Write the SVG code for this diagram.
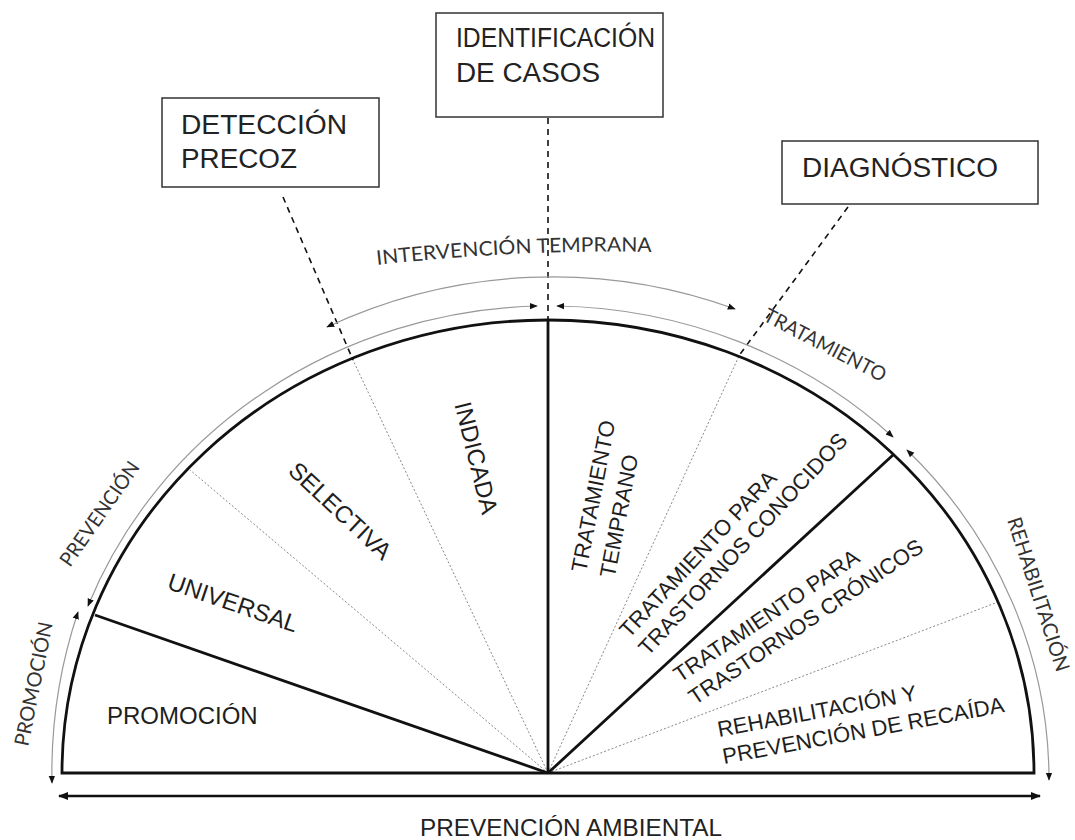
<svg xmlns="http://www.w3.org/2000/svg" width="1075" height="840" viewBox="0 0 1075 840">
<style>
.box{fill:#fff;stroke:#333;stroke-width:1.5}
.boxt{font-family:"Liberation Sans",Arial,sans-serif;font-size:27px;fill:#222}
.in{font-family:"Liberation Sans",Arial,sans-serif;font-size:22px;fill:#1e1e1e}
.inL{font-family:"Liberation Sans",Arial,sans-serif;font-size:24px;fill:#1e1e1e}
.out{font-family:Lato,"Open Sans",sans-serif;font-size:20px;fill:#333}
.thin{fill:none;stroke:#999;stroke-width:1.2;marker-start:url(#ah);marker-end:url(#ah)}
.dash{stroke:#111;stroke-width:1.6;stroke-dasharray:6 5;fill:none}
.dot{stroke:#888;stroke-width:1;stroke-dasharray:2 2;fill:none}
.thick{stroke:#111;stroke-width:2.8;fill:none}
</style>
<defs>
<marker id="ah" viewBox="0 0 10 10" refX="9" refY="5" markerWidth="8" markerHeight="8" markerUnits="userSpaceOnUse" orient="auto-start-reverse"><path d="M0,1 L10,5 L0,9 z" fill="#111"/></marker>
<marker id="ahb" viewBox="0 0 10 10" refX="9" refY="5" markerWidth="11" markerHeight="10" markerUnits="userSpaceOnUse" orient="auto-start-reverse"><path d="M0,1 L10,5 L0,9 z" fill="#111"/></marker>
<path id="itp" d="M 377 265 Q 520 249 655 252"/>
</defs>
<rect width="1075" height="840" fill="#fff"/>

<g id="connectors">
<path class="dot" d="M548 773 L190 470"/>
<path class="dot" d="M548 773 L352 358"/>
<path class="dot" d="M548 773 L739 356"/>
<path class="dot" d="M548 773 L998 602"/>
<path class="thick" d="M62 773 A486 453 0 0 1 1034 773 Z"/>
<path class="thick" d="M548 773 L95 615"/>
<path class="thick" d="M548 773 L548 320"/>
<path class="thick" d="M548 773 L893 455"/>
<path class="dash" d="M283 197 L353 360"/>
<path class="dash" d="M548 118 L548 320"/>
<path class="dash" d="M848 207 L738 357"/>
<path class="thin" d="M78 612 A496 500 0 0 0 52 783"/>
<path class="thin" d="M88 606 A496 468 0 0 1 537 306"/>
<path class="thin" d="M327 327 A515 496 0 0 1 735 309"/>
<path class="thin" d="M557 306 A496 468 0 0 1 893 437"/>
<path class="thin" d="M907 450 A501 473 0 0 1 1049 780"/>
<path d="M59 796 L1040 796" stroke="#111" stroke-width="2.6" marker-start="url(#ahb)" marker-end="url(#ahb)"/>
</g>

<g id="box-deteccion">
<rect class="box" x="162" y="98" width="217" height="89"/>
<text class="boxt" x="181" y="134" textLength="166" lengthAdjust="spacingAndGlyphs">DETECCIÓN</text>
<text class="boxt" x="181" y="168" textLength="116" lengthAdjust="spacingAndGlyphs">PRECOZ</text>
</g>
<g id="box-identificacion">
<rect class="box" x="436" y="13" width="227" height="104"/>
<text class="boxt" x="456" y="47" textLength="199" lengthAdjust="spacingAndGlyphs">IDENTIFICACIÓN</text>
<text class="boxt" x="456" y="82" textLength="144" lengthAdjust="spacingAndGlyphs">DE CASOS</text>
</g>
<g id="box-diagnostico">
<rect class="box" x="782" y="141" width="256" height="63"/>
<text class="boxt" x="802" y="177" textLength="196" lengthAdjust="spacingAndGlyphs">DIAGNÓSTICO</text>
</g>

<g id="seg-promocion"><text class="inL" x="107" y="724">PROMOCIÓN</text></g>
<g id="seg-universal"><text class="inL" text-anchor="middle" transform="translate(233 603) rotate(19)" y="8">UNIVERSAL</text></g>
<g id="seg-selectiva"><text class="inL" text-anchor="middle" transform="translate(340 511) rotate(43)" y="8">SELECTIVA</text></g>
<g id="seg-indicada"><text class="inL" text-anchor="middle" transform="translate(476 458) rotate(76)" y="8">INDICADA</text></g>
<g id="seg-temprano"><text class="in" font-size="23" transform="translate(586 573) rotate(-79)"><tspan x="0" y="0">TRATAMIENTO</tspan><tspan x="0" y="29">TEMPRANO</tspan></text></g>
<g id="seg-conocidos"><text class="in" transform="translate(629 639) rotate(-47)"><tspan x="0" y="0">TRATAMIENTO PARA</tspan><tspan x="0" y="26">TRASTORNOS CONOCIDOS</tspan></text></g>
<g id="seg-cronicos"><text class="in" transform="translate(680 683) rotate(-34)"><tspan x="0" y="0">TRATAMIENTO PARA</tspan><tspan x="0" y="27">TRASTORNOS CRÓNICOS</tspan></text></g>
<g id="seg-rehab"><text class="in" transform="translate(719 737) rotate(-10.5)"><tspan x="0" y="0">REHABILITACIÓN Y</tspan><tspan x="0" y="27.5">PREVENCIÓN DE RECAÍDA</tspan></text></g>

<g id="lbl-intervencion"><text class="out"><textPath href="#itp" textLength="275" lengthAdjust="spacingAndGlyphs">INTERVENCIÓN TEMPRANA</textPath></text></g>
<g id="lbl-tratamiento"><text class="out" transform="translate(762 320) rotate(27.5)" textLength="135" lengthAdjust="spacingAndGlyphs">TRATAMIENTO</text></g>
<g id="lbl-prevencion"><text class="out" transform="translate(70 568) rotate(-55)" textLength="123" lengthAdjust="spacingAndGlyphs">PREVENCIÓN</text></g>
<g id="lbl-promocion"><text class="out" transform="translate(28 747) rotate(-78.6)" textLength="126" lengthAdjust="spacingAndGlyphs">PROMOCIÓN</text></g>
<g id="lbl-rehabilitacion"><text class="out" transform="translate(1007 520) rotate(72)" textLength="161" lengthAdjust="spacingAndGlyphs">REHABILITACIÓN</text></g>
<g id="lbl-ambiental"><text x="420" y="836" font-family="'Liberation Sans',Arial,sans-serif" font-size="24" fill="#222" textLength="302" lengthAdjust="spacingAndGlyphs">PREVENCIÓN AMBIENTAL</text></g>
</svg>
